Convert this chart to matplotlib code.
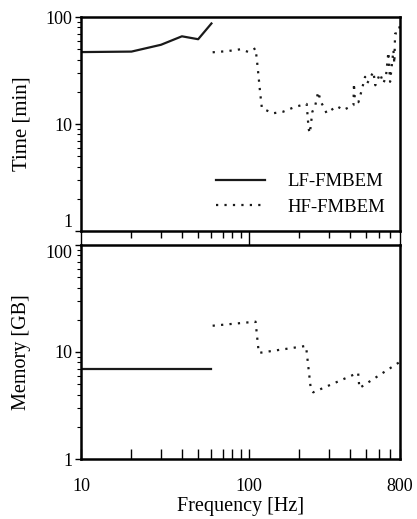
import matplotlib
matplotlib.use("Agg")
import matplotlib.pyplot as plt
from matplotlib.ticker import FixedLocator, NullFormatter, LogLocator

plt.rcParams['font.family'] = ['Liberation Serif', 'DejaVu Serif']
plt.rcParams['font.size'] = 13

# LF-FMBEM
lf_freq = [10, 20, 30, 40, 50, 60]
lf_time = [47, 47.5, 55, 66, 62, 87]
lf_mem_freq = [10, 60]
lf_mem = [6.9, 6.9]

# HF-FMBEM
hf_freq = [61, 75, 90, 100, 110, 113, 117, 120, 140, 160, 190, 222, 228, 232,
           240, 250, 260, 270, 280, 292, 336, 367, 422, 425, 430, 452, 470,
           495, 510, 555, 570, 608, 637, 660, 682, 690, 698, 731, 740, 748,
           783, 800]
hf_time = [46.8, 48, 50, 47, 51, 35, 20, 14, 12.6, 13, 14.5, 15.4, 9, 8.2,
           13, 15, 20, 16, 14.5, 12.6, 14.7, 13.5, 15, 24, 17, 16, 20,
           27.6, 24, 30.8, 23, 29.6, 24, 28, 47, 35, 24.8, 49, 36.7, 70,
           71, 85]
hf_mem_freq = [61, 110, 115, 220, 235, 243, 450, 458, 800]
hf_mem = [17.6, 19.2, 9.8, 11.4, 4.5, 4.2, 6.4, 4.6, 8.1]

W, H = 417, 519
fig = plt.figure(figsize=(W / 100, H / 100), dpi=100)
ax1 = fig.add_axes([81 / W, 1 - 231 / H, 319 / W, 214 / H])
ax2 = fig.add_axes([81 / W, 1 - 459 / H, 319 / W, 214 / H])

dot = (0, (1, 2.8))
ax1.plot(lf_freq, lf_time, color='#1a1a1a', lw=1.6, label='LF-FMBEM')
ax1.plot(hf_freq, hf_time, color='#1a1a1a', lw=1.6, linestyle=dot, label='HF-FMBEM')
ax2.plot(lf_mem_freq, lf_mem, color='#1a1a1a', lw=1.6)
ax2.plot(hf_mem_freq, hf_mem, color='#1a1a1a', lw=1.6, linestyle=dot)

xminor = [20, 30, 40, 50, 60, 70, 80, 90, 200, 300, 400, 500, 600, 700]
for ax in (ax1, ax2):
    ax.set_xscale('log')
    ax.set_yscale('log')
    ax.set_xlim(10, 800)
    ax.set_ylim(1, 100)
    ax.xaxis.set_major_locator(FixedLocator([10, 100, 800]))
    ax.xaxis.set_minor_locator(FixedLocator(xminor))
    ax.xaxis.set_minor_formatter(NullFormatter())
    ax.yaxis.set_major_locator(FixedLocator([1, 10, 100]))
    ax.yaxis.set_minor_locator(LogLocator(subs=range(2, 10)))
    ax.yaxis.set_minor_formatter(NullFormatter())
    ax.set_yticklabels(['1', '10', '100'])
    ax.tick_params(axis='y', which='major', direction='out', length=4, width=1, pad=2)
    ax.tick_params(axis='y', which='minor', direction='out', length=3, width=0.8)
    for s in ax.spines.values():
        s.set_linewidth(1.8)

# keep the "1" of the top panel and the "100" of the lower panel apart
ax1.get_yticklabels()[0].set_va('bottom')
ax2.get_yticklabels()[2].set_va('top')

ax1.tick_params(axis='x', which='major', direction='out', length=12, width=1, labelbottom=False)
ax1.tick_params(axis='x', which='minor', direction='out', length=5, width=1)
ax2.tick_params(axis='x', which='major', direction='in', length=7, width=1, pad=14)
ax2.tick_params(axis='x', which='minor', direction='in', length=7, width=1)
ax2.set_xticklabels(['10', '100', '800'])

ax1.set_ylabel('Time [min]', fontsize=15, labelpad=10)
ax2.set_ylabel('Memory [GB]', fontsize=14.5, labelpad=11)
ax2.set_xlabel('Frequency [Hz]', fontsize=14.5, labelpad=1)

ax1.legend(loc='lower right', frameon=False, handlelength=2.6, handletextpad=1.2,
           borderaxespad=0.4, labelspacing=0.45, fontsize=13.5)

fig.savefig('out.png', dpi=100)
